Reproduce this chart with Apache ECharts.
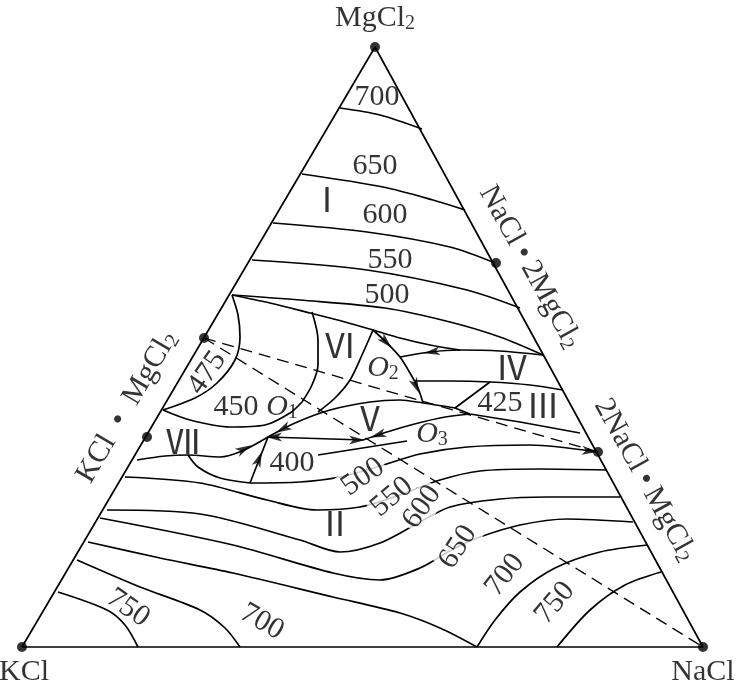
<!DOCTYPE html>
<html>
<head>
<meta charset="utf-8">
<title>KCl-NaCl-MgCl2</title>
<script src="https://cdn.jsdelivr.net/npm/echarts@6/dist/echarts.min.js"></script>
<style>
  html, body { margin: 0; padding: 0; background: #fff; }
  #chart { width: 736px; height: 687px; }
</style>
</head>
<body>
<div id="chart"></div>
<script>
// triangle frame: KCl at origin, NaCl on the x axis, MgCl2 at the apex
const triangle = [[0, 0], [681, 0], [353, 600], [0, 0]];
const compoundPoints = [[0, 0], [681, 0], [353, 600], [474, 384], [182, 309], [125, 210], [576, 195]];

// isotherms in the MgCl2 field (I)
const iso700Top = [[318, 539], [358, 532], [400, 518]];
const iso650Top = [[280, 473], [361, 460], [411, 447], [443, 437]];
const iso600Top = [[251, 424], [345, 415], [428, 400], [473, 384]];
const iso550Top = [[230, 387], [345, 377], [445, 357], [498, 339]];
const iso500Top = [[210, 352], [278, 347], [363, 339], [428, 325], [478, 310], [521, 292]];

// field boundaries and small isotherms in the middle
const lineI_VI = [[210, 352], [248, 344], [288, 334], [323, 325], [351, 317], [378, 309], [408, 302], [438, 297]];
const iso475 = [[210, 352], [216, 332], [218, 310], [213, 287], [195, 264], [173, 249], [141, 237]];
const iso450 = [[141, 237], [168, 227], [208, 220], [243, 222], [268, 234], [280, 245]];
const lineVI = [[290, 335], [296, 307], [296, 282], [290, 262], [280, 245]];
const lineO2Left = [[351, 317], [340, 292], [328, 267], [313, 249], [296, 235]];
const lineO2Right = [[351, 317], [365, 304], [378, 290], [388, 274], [396, 259], [401, 244]];
const lineIV_I = [[378, 290], [408, 295], [438, 297], [478, 296], [521, 292]];
const lineIV_III = [[392, 266], [428, 266], [468, 265], [508, 262], [541, 257]];
const iso425 = [[468, 265], [433, 239], [448, 233], [498, 225], [558, 214]];
const lineO3 = [[341, 207], [378, 219], [418, 229], [448, 233]];
const lineO1O2 = [[246, 210], [273, 224], [308, 237], [348, 245], [378, 247], [401, 244], [433, 239]];
const lineO1V = [[246, 210], [341, 207]];
const lineUp = [[228, 164], [246, 210]];
const lineVII = [[115, 187], [143, 191], [166, 192], [198, 190], [220, 196], [246, 210]];
const lineVIIdown = [[166, 192], [176, 180], [198, 169], [228, 164]];
const iso400 = [[296, 192], [385, 206]];
const tieA = [[182, 309], [576, 195]];
const tieB = [[182, 309], [681, 0]];

// isotherms in the NaCl field (II) and near the corners
const iso500 = [[228, 164], [278, 165], [318, 170], [358, 181], [398, 193], [445, 200], [508, 202], [575, 195]];
const iso550 = [[103, 170], [178, 164], [245, 147], [295, 137], [338, 140], [378, 152], [418, 167], [458, 176], [518, 178], [585, 177]];
const iso600 = [[85, 137], [178, 133], [278, 107], [318, 95], [358, 104], [398, 125], [428, 140], [478, 148], [525, 150], [598, 150]];
const iso650 = [[78, 129], [211, 102], [311, 74], [358, 67], [398, 79], [433, 99], [458, 110], [498, 122], [545, 128], [611, 125]];
const iso700 = [[66, 105], [138, 89], [211, 74], [311, 50], [378, 34], [418, 19], [455, 0]];
const iso700N = [[455, 0], [473, 27], [498, 55], [533, 79], [578, 95], [625, 102]];
const iso700K = [[55, 87], [118, 60], [178, 37], [203, 19], [218, 0]];
const iso750K = [[36, 55], [85, 37], [103, 22], [116, 0]];
const iso750N = [[535, 0], [568, 37], [603, 62], [639, 75]];

// arrowheads: x, y, direction dx, dy
const arrows = [
  [364, 305, 27, -27], [394, 261, 13, -30], [410, 295, -30, -5],
  [261, 218, -15, -8], [252, 210, -1, 0], [335, 207, 1, 0],
  [237, 188, 18, 46], [222, 198, 26, 14], [356, 212, -37, -12],
  [568, 196, 1, -0.1]
];

// text: x, y, text, rotation, masks the line beneath
const labels = [
  [353, 629, 'MgCl{s|2}', 0, 0], [2, -25, 'KCl', 0, 0], [681, -25, 'NaCl', 0, 0],
  [508, 380, 'NaCl\u2009•\u20092MgCl{s|2}', -61, 0], [623, 167, '2NaCl\u2009•\u2009MgCl{s|2}', -61, 0],
  [105, 240, 'KCl\u2002•\u2002MgCl{s|2}', 59.5, 0],
  [355, 550, '700', 0, 0], [353, 481, '650', 0, 0], [305, 448, '{r|Ⅰ}', 0, 0], [363, 432, '600', 0, 0],
  [368, 387, '550', 0, 0], [365, 352, '500', 0, 0],
  [185, 274, '475', 55, 0], [214, 240, '450', 0, 0], [260, 240, '{i|O}{s|1}', 0, 0],
  [318, 302, '{r|Ⅵ}', 0, 0], [361, 279, '{i|O}{s|2}', 0, 0], [490, 280, '{r|Ⅳ}', 0, 0],
  [478, 244, '425', 0, 0], [521, 242, '{r|Ⅲ}', 0, 0], [161, 206, '{r|Ⅶ}', 0, 0],
  [348, 229, '{r|Ⅴ}', 0, 0], [410, 213, '{i|O}{s|3}', 0, 0], [270, 184, '400', 0, 0],
  [341, 170, '500', 35, 1], [370, 150, '550', 40, 1], [313, 124, '{r|Ⅱ}', 0, 0],
  [400, 140, '600', 55, 1], [436, 100, '650', 57, 1], [483, 72, '700', 52, 0], [533, 44, '750', 50, 0],
  [106, 39, '750', -35, 0], [240, 25, '700', -30, 0]
];

const serif = '"Liberation Serif", "Times New Roman", serif';
const roman = '"Noto Sans CJK SC", "Liberation Serif", serif';

function curve(data, extra) {
  return Object.assign({
    type: 'line', data: data, showSymbol: false, symbol: 'none', smooth: 0.3, silent: true,
    lineStyle: { color: '#000', width: 1.7 }
  }, extra || {});
}

const curveList = [
  iso700Top, iso650Top, iso600Top, iso550Top, iso500Top,
  lineI_VI, iso475, iso450, lineVI, lineO2Left, lineO2Right, lineIV_I, lineIV_III,
  lineO3, lineO1O2, lineUp, lineVII, lineVIIdown, iso400,
  iso500, iso550, iso600, iso650, iso700, iso700N, iso700K, iso750K, iso750N
];

const series = curveList.map(d => curve(d));
series.push(curve(triangle, { smooth: false }));
series.push(curve(lineO1V, { smooth: false }));
series.push(curve(iso425, { smooth: false }));
series.push(curve(tieA, { smooth: false, lineStyle: { color: '#000', width: 1.3, type: [12, 7] } }));
series.push(curve(tieB, { smooth: false, lineStyle: { color: '#000', width: 1.3, type: [12, 7] } }));

series.push({
  type: 'scatter', silent: true, symbol: 'circle', symbolSize: 10,
  itemStyle: { color: '#000' }, data: compoundPoints, z: 4
});

series.push({
  type: 'scatter', silent: true, symbol: 'path://M0,0L5,16L0,12L-5,16Z', symbolSize: [9, 16],
  itemStyle: { color: '#000' }, z: 4,
  data: arrows.map(a => ({ value: [a[0], a[1]], symbolRotate: Math.atan2(a[3], a[2]) * 180 / Math.PI - 90 }))
});

series.push({
  type: 'scatter', silent: true, symbolSize: 0, z: 6,
  label: {
    show: true, position: 'inside', color: '#000', fontFamily: serif, fontSize: 30,
    formatter: p => p.name,
    rich: {
      s: { fontFamily: serif, fontSize: 20, color: '#000', padding: [12, 0, 0, 0] },
      i: { fontFamily: serif, fontSize: 30, fontStyle: 'italic', color: '#000' },
      r: { fontFamily: roman, fontSize: 34, color: '#000' }
    }
  },
  data: labels.map(l => ({
    value: [l[0], l[1]], name: l[2],
    label: l[4] ? { rotate: l[3], backgroundColor: '#fff', padding: [0, 2] } : { rotate: l[3] }
  }))
});

const chart = echarts.init(document.getElementById('chart'));
chart.setOption({
  animation: false,
  backgroundColor: '#fff',
  grid: { left: 0, right: 0, top: 0, bottom: 0 },
  xAxis: { type: 'value', min: -22, max: 714, show: false },
  yAxis: { type: 'value', min: -40, max: 647, show: false },
  series: series
});
</script>
</body>
</html>
